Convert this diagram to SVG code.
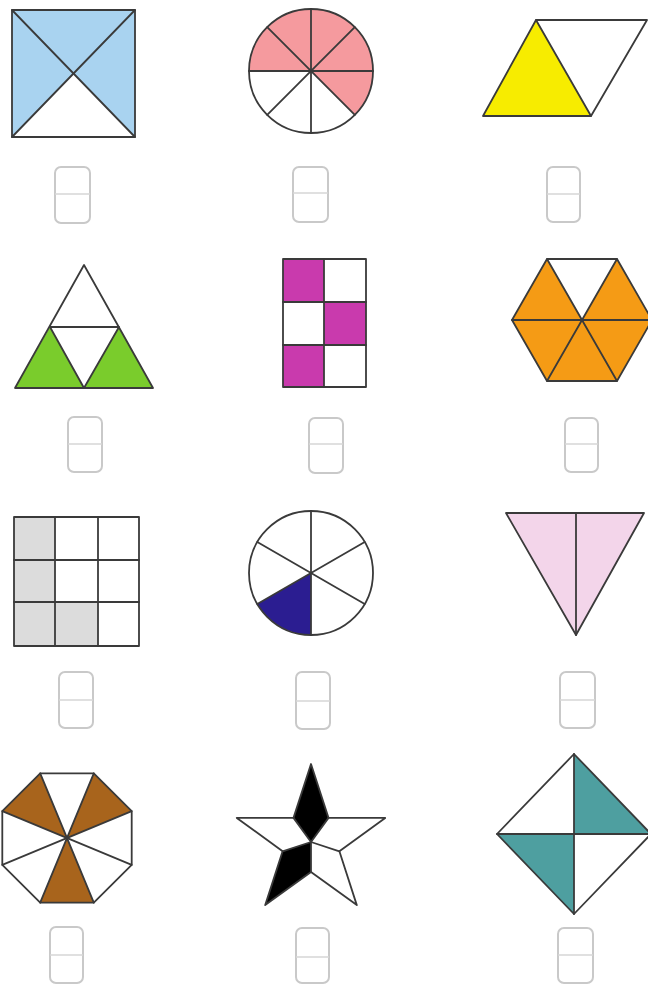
<svg xmlns="http://www.w3.org/2000/svg" width="648" height="987" viewBox="0 0 648 987">
<style>
.o{stroke:#3a3a3a;stroke-width:1.8;stroke-linejoin:round;stroke-linecap:round}
.w{fill:#ffffff}
.n{fill:none}
.box{fill:#ffffff;stroke:#c9c9c9;stroke-width:2}
.mid{stroke:#d6d6d6;stroke-width:1.6}
</style>
<rect width="648" height="987" fill="#ffffff"/>
<g id="node-square">
<rect x="12" y="10" width="123" height="127" fill="#a9d3f0"/>
<polygon points="12,137 135,137 73.5,73.5" class="w"/>
<rect x="12" y="10" width="123" height="127" class="o n"/>
<line x1="12" y1="10" x2="135" y2="137" class="o"/>
<line x1="135" y1="10" x2="12" y2="137" class="o"/>
<rect x="55" y="167" width="35" height="56" rx="6" class="box"/>
<line x1="55" y1="194" x2="90" y2="194" class="mid"/>
</g>
<g id="node-circle8">
<circle cx="311" cy="71" r="62" class="w"/>
<path d="M311,71 L249,71 A62,62 0 0,1 373,71 A62,62 0 0,1 354.8,114.8 Z" fill="#f59a9e"/>
<circle cx="311" cy="71" r="62" class="o n"/>
<line x1="311" y1="9" x2="311" y2="133" class="o"/>
<line x1="249" y1="71" x2="373" y2="71" class="o"/>
<line x1="267.2" y1="27.2" x2="354.8" y2="114.8" class="o"/>
<line x1="354.8" y1="27.2" x2="267.2" y2="114.8" class="o"/>
<rect x="293" y="167" width="35" height="55" rx="6" class="box"/>
<line x1="293" y1="193" x2="328" y2="193" class="mid"/>
</g>
<g id="node-parallelogram">
<polygon points="536,20 647,20 591,116" class="w"/>
<polygon points="536,20 483,116 591,116" fill="#f7ec00"/>
<polygon points="536,20 647,20 591,116 483,116" class="o n"/>
<line x1="536" y1="20" x2="591" y2="116" class="o"/>
<rect x="547" y="167" width="33" height="55" rx="6" class="box"/>
<line x1="547" y1="194" x2="580" y2="194" class="mid"/>
</g>
<g id="node-triangle4">
<polygon points="84,265 15,388 153,388" class="w"/>
<polygon points="50,327 15,388 84,388" fill="#7acc2c"/>
<polygon points="119,327 84,388 153,388" fill="#7acc2c"/>
<polygon points="84,265 15,388 153,388" class="o n"/>
<polyline points="50,327 119,327 84,388 50,327" class="o n"/>
<rect x="68" y="417" width="34" height="55" rx="6" class="box"/>
<line x1="68" y1="444" x2="102" y2="444" class="mid"/>
</g>
<g id="node-grid6">
<rect x="283" y="259" width="83" height="128" class="w"/>
<rect x="283" y="259" width="41" height="43" fill="#c93aad"/>
<rect x="324" y="302" width="42" height="43" fill="#c93aad"/>
<rect x="283" y="345" width="41" height="42" fill="#c93aad"/>
<rect x="283" y="259" width="83" height="128" class="o n"/>
<line x1="324" y1="259" x2="324" y2="387" class="o"/>
<line x1="283" y1="302" x2="366" y2="302" class="o"/>
<line x1="283" y1="345" x2="366" y2="345" class="o"/>
<rect x="309" y="418" width="34" height="55" rx="6" class="box"/>
<line x1="309" y1="444" x2="343" y2="444" class="mid"/>
</g>
<g id="node-hexagon">
<polygon points="512,320 547,259 617,259 652,320 617,381 547,381" fill="#f59b15"/>
<polygon points="547,259 617,259 582,320" class="w"/>
<polygon points="512,320 547,259 617,259 652,320 617,381 547,381" class="o n"/>
<line x1="512" y1="320" x2="652" y2="320" class="o"/>
<line x1="547" y1="259" x2="617" y2="381" class="o"/>
<line x1="617" y1="259" x2="547" y2="381" class="o"/>
<rect x="565" y="418" width="33" height="54" rx="6" class="box"/>
<line x1="565" y1="444" x2="598" y2="444" class="mid"/>
</g>
<g id="node-grid9">
<rect x="14" y="517" width="125" height="129" class="w"/>
<rect x="14" y="517" width="41" height="129" fill="#dcdcdc"/>
<rect x="55" y="602" width="43" height="44" fill="#dcdcdc"/>
<rect x="14" y="517" width="125" height="129" class="o n"/>
<line x1="55" y1="517" x2="55" y2="646" class="o"/>
<line x1="98" y1="517" x2="98" y2="646" class="o"/>
<line x1="14" y1="560" x2="139" y2="560" class="o"/>
<line x1="14" y1="602" x2="139" y2="602" class="o"/>
<rect x="59" y="672" width="34" height="56" rx="6" class="box"/>
<line x1="59" y1="700" x2="93" y2="700" class="mid"/>
</g>
<g id="node-circle6">
<circle cx="311" cy="573" r="62" class="w"/>
<path d="M311,573 L257.3,604 A62,62 0 0,0 311,635 Z" fill="#2b1d91"/>
<circle cx="311" cy="573" r="62" class="o n"/>
<line x1="311" y1="511" x2="311" y2="635" class="o"/>
<line x1="257.3" y1="542" x2="364.7" y2="604" class="o"/>
<line x1="257.3" y1="604" x2="364.7" y2="542" class="o"/>
<rect x="296" y="672" width="34" height="57" rx="6" class="box"/>
<line x1="296" y1="701" x2="330" y2="701" class="mid"/>
</g>
<g id="node-inverted-triangle">
<polygon points="506,513 644,513 576,635" fill="#f3d5ea"/>
<polygon points="506,513 644,513 576,635" class="o n"/>
<line x1="576" y1="513" x2="576" y2="635" class="o"/>
<rect x="560" y="672" width="35" height="56" rx="6" class="box"/>
<line x1="560" y1="700" x2="595" y2="700" class="mid"/>
</g>
<g id="node-octagon">
<polygon points="40.2,773.3 93.8,773.3 131.7,811.2 131.7,864.8 93.8,902.7 40.2,902.7 2.3,864.8 2.3,811.2" class="w"/>
<polygon points="67,838 2.3,811.2 40.2,773.3" fill="#a8641c"/>
<polygon points="67,838 93.8,773.3 131.7,811.2" fill="#a8641c"/>
<polygon points="67,838 93.8,902.7 40.2,902.7" fill="#a8641c"/>
<polygon points="40.2,773.3 93.8,773.3 131.7,811.2 131.7,864.8 93.8,902.7 40.2,902.7 2.3,864.8 2.3,811.2" class="o n"/>
<line x1="40.2" y1="773.3" x2="93.8" y2="902.7" class="o"/>
<line x1="93.8" y1="773.3" x2="40.2" y2="902.7" class="o"/>
<line x1="131.7" y1="811.2" x2="2.3" y2="864.8" class="o"/>
<line x1="131.7" y1="864.8" x2="2.3" y2="811.2" class="o"/>
<rect x="50" y="927" width="33" height="56" rx="6" class="box"/>
<line x1="50" y1="955" x2="83" y2="955" class="mid"/>
</g>
<g id="node-star">
<polygon points="311,764 328.5,817.9 385.2,817.9 339.4,851.3 356.8,905.1 311,871.9 265.2,905.1 282.6,851.3 236.8,817.9 293.5,817.9" class="w"/>
<polygon points="311,842 293.5,817.9 311,764 328.5,817.9" fill="#000000"/>
<polygon points="311,842 282.6,851.3 265.2,905.1 311,871.9" fill="#000000"/>
<polygon points="311,764 328.5,817.9 385.2,817.9 339.4,851.3 356.8,905.1 311,871.9 265.2,905.1 282.6,851.3 236.8,817.9 293.5,817.9" class="o n"/>
<line x1="311" y1="842" x2="293.5" y2="817.9" class="o"/>
<line x1="311" y1="842" x2="328.5" y2="817.9" class="o"/>
<line x1="311" y1="842" x2="339.4" y2="851.3" class="o"/>
<line x1="311" y1="842" x2="311" y2="871.9" class="o"/>
<line x1="311" y1="842" x2="282.6" y2="851.3" class="o"/>
<rect x="296" y="928" width="33" height="55" rx="6" class="box"/>
<line x1="296" y1="957" x2="329" y2="957" class="mid"/>
</g>
<g id="node-diamond">
<polygon points="574,754 651,834 574,914 497,834" class="w"/>
<polygon points="574,834 574,754 651,834" fill="#4e9fa0"/>
<polygon points="574,834 497,834 574,914" fill="#4e9fa0"/>
<polygon points="574,754 651,834 574,914 497,834" class="o n"/>
<line x1="497" y1="834" x2="651" y2="834" class="o"/>
<line x1="574" y1="754" x2="574" y2="914" class="o"/>
<rect x="558" y="928" width="35" height="55" rx="6" class="box"/>
<line x1="558" y1="955" x2="593" y2="955" class="mid"/>
</g>
</svg>
